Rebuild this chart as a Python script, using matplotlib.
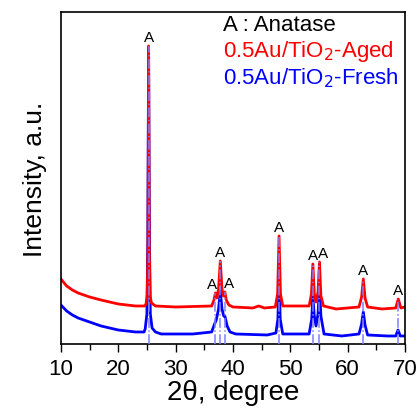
import matplotlib.pyplot as plt

plt.rcParams['font.family'] = ['Liberation Sans', 'DejaVu Sans']

# 2theta / intensity points (arbitrary units)
aged_x = [10, 11, 12, 13, 14, 15, 17, 20, 23, 24.6,
          24.85, 25.05, 25.2, 25.3, 25.4, 25.55, 25.8, 26.5,
          30, 36.3, 36.7, 36.95, 37.2, 37.5, 37.8, 38.1, 38.35, 38.6, 38.85, 39.3, 40,
          43.5, 44.5, 45.5, 47.4,
          47.8, 48.05, 48.3, 48.7,
          53.3, 53.7, 53.95, 54.2, 54.5, 54.85, 55.1, 55.35, 55.8,
          58, 62.0, 62.45, 62.75, 63.05, 63.5,
          66, 68.4, 68.85, 69.3, 70]
aged_y = [65, 58, 54, 51, 49, 47, 44, 40, 38, 38,
          40, 48, 100, 298, 100, 48, 41, 38,
          37, 38, 44, 51, 46, 55, 83, 55, 48, 52, 44, 39, 37,
          36, 38, 36, 37,
          50, 108, 50, 38,
          38, 50, 80, 50, 42, 52, 82, 48, 38,
          35, 37, 47, 65, 46, 37,
          35, 36, 45, 36, 37]

fresh_x = [10, 11, 12, 13, 14, 15, 17, 20, 23, 24.5,
           24.7, 25.0, 25.15, 25.3, 25.45, 25.6, 25.9, 26.5, 27.5,
           33, 36.3, 36.8, 37.1, 37.5, 37.8, 38.1, 38.4, 38.6, 39.0, 39.5, 40.5,
           46, 47.5, 47.85, 48.05, 48.25, 48.7,
           53.3, 53.75, 53.95, 54.2, 54.5, 54.85, 55.1, 55.35, 55.9,
           59, 62.0, 62.45, 62.75, 63.05, 63.5,
           67, 68.4, 68.8, 69.2, 70]
fresh_y = [39, 33, 29, 26, 24, 22, 18, 14, 12, 12,
           15, 30, 100, 295, 100, 30, 16, 12, 10,
           10, 12, 20, 24, 35, 53, 35, 28, 28, 18, 12, 10,
           9, 11, 25, 72, 25, 10,
           10, 25, 47, 28, 18, 30, 58, 28, 10,
           8, 10, 20, 32, 19, 9,
           8, 8, 14, 8, 8]

# anatase reference positions, stick heights and label x positions
anatase_pos = [25.3, 36.95, 37.8, 38.6, 48.05, 53.95, 55.1, 62.75, 68.85]
anatase_top = [298, 51, 83, 52, 108, 80, 82, 65, 45]
label_x = [25.3, 36.4, 37.8, 39.3, 48.05, 53.9, 55.65, 62.75, 68.85]

fig = plt.figure(figsize=(4.2, 4.14), dpi=100)
ax = fig.add_axes([0.145, 0.1667, 0.819, 0.802])

for p, h in zip(anatase_pos, anatase_top):
    ax.plot([p, p], [0, h], color='#8080ff', linestyle='-.', linewidth=1.1, zorder=3)

ax.plot(fresh_x, fresh_y, color='#0000ff', linewidth=2.0, zorder=2)
ax.plot(aged_x, aged_y, color='#ff0000', linewidth=2.0, zorder=2)

for lx, h in zip(label_x, anatase_top):
    ax.text(lx, h + 2, 'A', ha='center', va='bottom', fontsize=11)

ax.set_xlim(10, 70)
ax.set_ylim(0, 332)
ax.set_xticks([10, 20, 30, 40, 50, 60, 70])
ax.set_xticks([15, 25, 35, 45, 55, 65], minor=True)
ax.set_yticks([])
ax.tick_params(axis='x', which='major', length=6, width=1, labelsize=16, pad=4)
ax.tick_params(axis='x', which='minor', length=4, width=1)
for s in ax.spines.values():
    s.set_linewidth(1.2)

ax.set_xlabel('2\u03b8, degree', fontsize=20, labelpad=0)
ax.set_ylabel('Intensity, a.u.', fontsize=19, labelpad=10)

ax.text(0.471, 0.961, 'A : Anatase', transform=ax.transAxes, fontsize=16,
        color='black', va='center')
ax.text(0.471, 0.883, '0.5Au/TiO$_2$-Aged', transform=ax.transAxes, fontsize=16,
        color='#ff0000', va='center')
ax.text(0.471, 0.804, '0.5Au/TiO$_2$-Fresh', transform=ax.transAxes, fontsize=16,
        color='#0000ff', va='center')

fig.savefig('out.png', dpi=100)
